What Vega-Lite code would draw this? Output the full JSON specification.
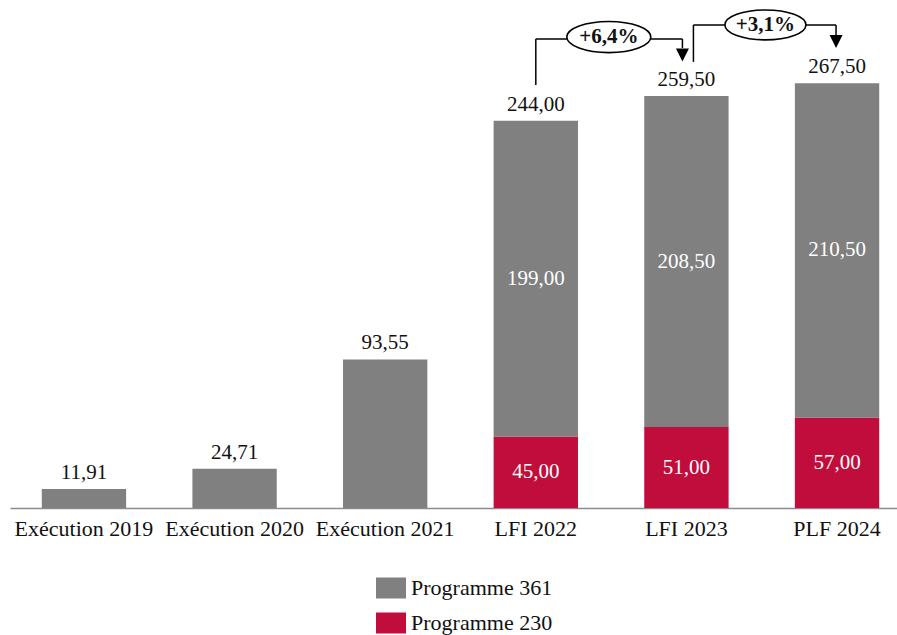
{
  "$schema": "https://vega.github.io/schema/vega-lite/v6.json",
  "autosize": "none",
  "width": 887,
  "height": 508,
  "padding": {"left": 10, "top": 0, "right": 0, "bottom": 127},
  "config": {
    "font": "Liberation Serif",
    "view": {"stroke": null},
    "axisX": {"title": null, "labelAngle": 0, "ticks": false, "domainColor": "#8c8c8c", "domainWidth": 1.5, "labelFontSize": 22, "labelColor": "#111111", "labelPadding": 10},
    "locale": {"number": {"decimal": ",", "thousands": "\u00a0", "grouping": [3], "currency": ["", " €"]}}
  },
  "datasets": {
    "bars": [
      {"cat": "Exécution 2019", "programme": "Programme 361", "value": 11.91},
      {"cat": "Exécution 2020", "programme": "Programme 361", "value": 24.71},
      {"cat": "Exécution 2021", "programme": "Programme 361", "value": 93.55},
      {"cat": "LFI 2022", "programme": "Programme 230", "value": 45.0},
      {"cat": "LFI 2022", "programme": "Programme 361", "value": 199.0},
      {"cat": "LFI 2023", "programme": "Programme 230", "value": 51.0},
      {"cat": "LFI 2023", "programme": "Programme 361", "value": 208.5},
      {"cat": "PLF 2024", "programme": "Programme 230", "value": 57.0},
      {"cat": "PLF 2024", "programme": "Programme 361", "value": 210.5}
    ]
  },
  "layer": [
    {
      "data": {"name": "bars"},
      "mark": {"type": "bar"},
      "encoding": {
        "x": {
          "field": "cat", "type": "nominal", "title": null,
          "scale": {"domain": ["Exécution 2019", "Exécution 2020", "Exécution 2021", "LFI 2022", "LFI 2023", "PLF 2024"], "range": [0, 901], "paddingInner": 0.44, "paddingOuter": 0.211}
        },
        "y": {"field": "value", "type": "quantitative", "stack": "zero", "scale": {"domain": [0, 320]}, "axis": null},
        "order": {"field": "programme", "sort": "ascending"},
        "color": {
          "field": "programme", "type": "nominal",
          "scale": {"domain": ["Programme 361", "Programme 230"], "range": ["#808080", "#C10D3C"]},
          "legend": {"title": null, "orient": "none", "legendX": 366, "legendY": 573, "padding": 0, "symbolType": "M-1,-0.7H1V0.7H-1Z", "symbolSize": 900, "symbolStrokeWidth": 0, "labelFontSize": 22, "labelColor": "#111111", "labelOffset": 5, "rowPadding": 9, "direction": "vertical"}
        }
      }
    },
    {
      "data": {"name": "bars"},
      "transform": [
        {"joinaggregate": [{"op": "count", "as": "n"}], "groupby": ["cat"]},
        {"filter": "datum.n > 1"},
        {"stack": "value", "groupby": ["cat"], "sort": [{"field": "programme", "order": "ascending"}], "as": ["v0", "v1"]},
        {"calculate": "(datum.v0 + datum.v1) / 2", "as": "mid"}
      ],
      "mark": {"type": "text", "color": "white", "fontSize": 21, "baseline": "middle", "align": "center"},
      "encoding": {
        "x": {"field": "cat", "type": "nominal", "title": null},
        "y": {"field": "mid", "type": "quantitative", "scale": {"domain": [0, 320]}, "axis": null},
        "text": {"field": "value", "type": "quantitative", "format": ".2f"}
      }
    },
    {
      "data": {"name": "bars"},
      "transform": [{"aggregate": [{"op": "sum", "field": "value", "as": "total"}], "groupby": ["cat"]}],
      "mark": {"type": "text", "color": "#111111", "fontSize": 21, "baseline": "alphabetic", "align": "center", "dy": -10},
      "encoding": {
        "x": {"field": "cat", "type": "nominal", "title": null},
        "y": {"field": "total", "type": "quantitative", "scale": {"domain": [0, 320]}, "axis": null},
        "text": {"field": "total", "type": "quantitative", "format": ".2f"}
      }
    },
    {
      "data": {"values": [{"from": "LFI 2022", "to": "LFI 2023", "base": 266.5, "top": 295.4, "head": 289.8, "headMid": 285.4, "label": "+6,4%"}]},
      "layer": [
        {"mark": {"type": "rule", "color": "black", "strokeWidth": 1.5},
         "encoding": {"x": {"field": "from", "type": "nominal", "title": null}, "y": {"field": "base", "type": "quantitative", "scale": {"domain": [0, 320]}, "axis": null}, "y2": {"field": "top"}}},
        {"mark": {"type": "rule", "color": "black", "strokeWidth": 1.5, "x2Offset": -4},
         "encoding": {"x": {"field": "from", "type": "nominal", "title": null}, "x2": {"field": "to"}, "y": {"field": "top", "type": "quantitative", "scale": {"domain": [0, 320]}, "axis": null}}},
        {"mark": {"type": "rule", "color": "black", "strokeWidth": 1.5, "xOffset": -4},
         "encoding": {"x": {"field": "to", "type": "nominal", "title": null}, "y": {"field": "top", "type": "quantitative", "scale": {"domain": [0, 320]}, "axis": null}, "y2": {"field": "head"}}},
        {"mark": {"type": "point", "shape": "M-1,-1L1,-1L0,1Z", "size": 169, "filled": true, "color": "black", "opacity": 1, "xOffset": -4},
         "encoding": {"x": {"field": "to", "type": "nominal", "title": null}, "y": {"field": "headMid", "type": "quantitative", "scale": {"domain": [0, 320]}, "axis": null}}},
        {"mark": {"type": "point", "shape": "M-1,0A1,0.37,0,1,1,1,0A1,0.37,0,1,1,-1,0Z", "size": 7056, "filled": true, "fill": "white", "stroke": "black", "strokeWidth": 1.6, "opacity": 1, "xOffset": 73, "yOffset": -2},
         "encoding": {"x": {"field": "from", "type": "nominal", "title": null}, "y": {"field": "top", "type": "quantitative", "scale": {"domain": [0, 320]}, "axis": null}}},
        {"mark": {"type": "text", "fontSize": 21, "fontWeight": "bold", "color": "#111111", "baseline": "middle", "align": "center", "xOffset": 73, "yOffset": -2},
         "encoding": {"x": {"field": "from", "type": "nominal", "title": null}, "y": {"field": "top", "type": "quantitative", "scale": {"domain": [0, 320]}, "axis": null}, "text": {"field": "label"}}}
      ]
    },
    {
      "data": {"values": [{"from": "LFI 2023", "to": "PLF 2024", "base": 281.0, "top": 304.3, "head": 298.0, "headMid": 293.9, "label": "+3,1%"}]},
      "layer": [
        {"mark": {"type": "rule", "color": "black", "strokeWidth": 1.5, "xOffset": 7},
         "encoding": {"x": {"field": "from", "type": "nominal", "title": null}, "y": {"field": "base", "type": "quantitative", "scale": {"domain": [0, 320]}, "axis": null}, "y2": {"field": "top"}}},
        {"mark": {"type": "rule", "color": "black", "strokeWidth": 1.5, "xOffset": 7, "x2Offset": -1},
         "encoding": {"x": {"field": "from", "type": "nominal", "title": null}, "x2": {"field": "to"}, "y": {"field": "top", "type": "quantitative", "scale": {"domain": [0, 320]}, "axis": null}}},
        {"mark": {"type": "rule", "color": "black", "strokeWidth": 1.5, "xOffset": -1},
         "encoding": {"x": {"field": "to", "type": "nominal", "title": null}, "y": {"field": "top", "type": "quantitative", "scale": {"domain": [0, 320]}, "axis": null}, "y2": {"field": "head"}}},
        {"mark": {"type": "point", "shape": "M-1,-1L1,-1L0,1Z", "size": 169, "filled": true, "color": "black", "opacity": 1, "xOffset": -1},
         "encoding": {"x": {"field": "to", "type": "nominal", "title": null}, "y": {"field": "headMid", "type": "quantitative", "scale": {"domain": [0, 320]}, "axis": null}}},
        {"mark": {"type": "point", "shape": "M-1,0A1,0.37,0,1,1,1,0A1,0.37,0,1,1,-1,0Z", "size": 6561, "filled": true, "fill": "white", "stroke": "black", "strokeWidth": 1.6, "opacity": 1, "xOffset": 79, "yOffset": 0},
         "encoding": {"x": {"field": "from", "type": "nominal", "title": null}, "y": {"field": "top", "type": "quantitative", "scale": {"domain": [0, 320]}, "axis": null}}},
        {"mark": {"type": "text", "fontSize": 21, "fontWeight": "bold", "color": "#111111", "baseline": "middle", "align": "center", "xOffset": 79, "yOffset": 0},
         "encoding": {"x": {"field": "from", "type": "nominal", "title": null}, "y": {"field": "top", "type": "quantitative", "scale": {"domain": [0, 320]}, "axis": null}, "text": {"field": "label"}}}
      ]
    }
  ]
}
